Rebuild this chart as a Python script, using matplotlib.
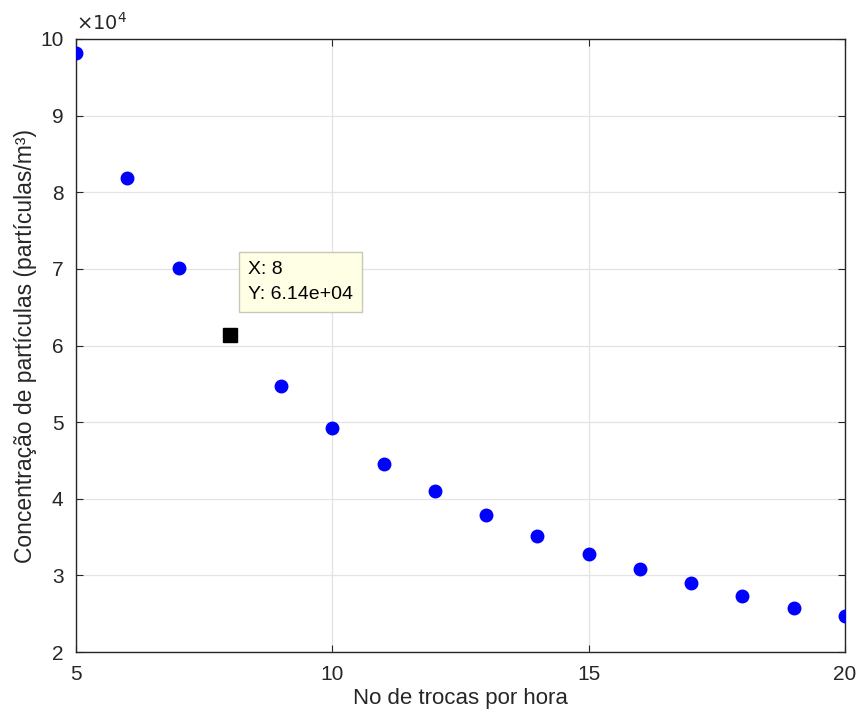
import matplotlib.pyplot as plt
import numpy as np

plt.rcParams['font.family'] = ['Liberation Sans', 'DejaVu Sans']

# dados
trocas = [5, 6, 7, 8, 9, 10, 11, 12, 13, 14, 15, 16, 17, 18, 19, 20]
concentracao = [98200, 81800, 70100, 61400, 54700, 49200, 44500, 41000,
                37900, 35100, 32800, 30800, 29000, 27300, 25800, 24700]
tip_x = 8
tip_y = 61400

fig = plt.figure(figsize=(8.59, 7.15), dpi=100)
ax = fig.add_axes([0.0885, 0.088, 0.895, 0.8575])

ax.plot(trocas, np.array(concentracao) / 1e4, 'o', color='#0000ff',
        markersize=9, zorder=3)

# marcador do datatip
ax.plot(tip_x, tip_y / 1e4, 's', color='black', markersize=10, zorder=4)
ax.annotate(f'X: {tip_x}\nY: {tip_y:.2e}',
            xy=(tip_x, tip_y / 1e4), xytext=(13, 23), textcoords='offset points',
            fontsize=14, va='bottom', ha='left', linespacing=1.6,
            bbox=dict(boxstyle='square,pad=0.45', fc='#ffffe6', ec='#c8c8b4', lw=1),
            zorder=5)

ax.set_xlim(5, 20)
ax.set_ylim(2, 10)
ax.set_xticks([5, 10, 15, 20])
ax.set_yticks(range(2, 11))
ax.tick_params(direction='in', top=True, right=True, labelsize=15,
               color='#262626', labelcolor='#262626', length=5, pad=9)
ax.grid(True, color='#e3e3e3', linewidth=0.9)
ax.set_axisbelow(True)
for s in ax.spines.values():
    s.set_color('#262626')
    s.set_linewidth(1)

ax.set_xlabel('No de trocas por hora', fontsize=16, color='#262626', labelpad=3)
ax.set_ylabel('Concentração de partículas (partículas/m³)', fontsize=16.5,
              color='#262626', labelpad=2)
ax.text(0.0, 1.008, r'$\times10^4$', transform=ax.transAxes, fontsize=14,
        color='#262626', va='bottom', ha='left')

plt.savefig('out.png', dpi=100, facecolor='white')
